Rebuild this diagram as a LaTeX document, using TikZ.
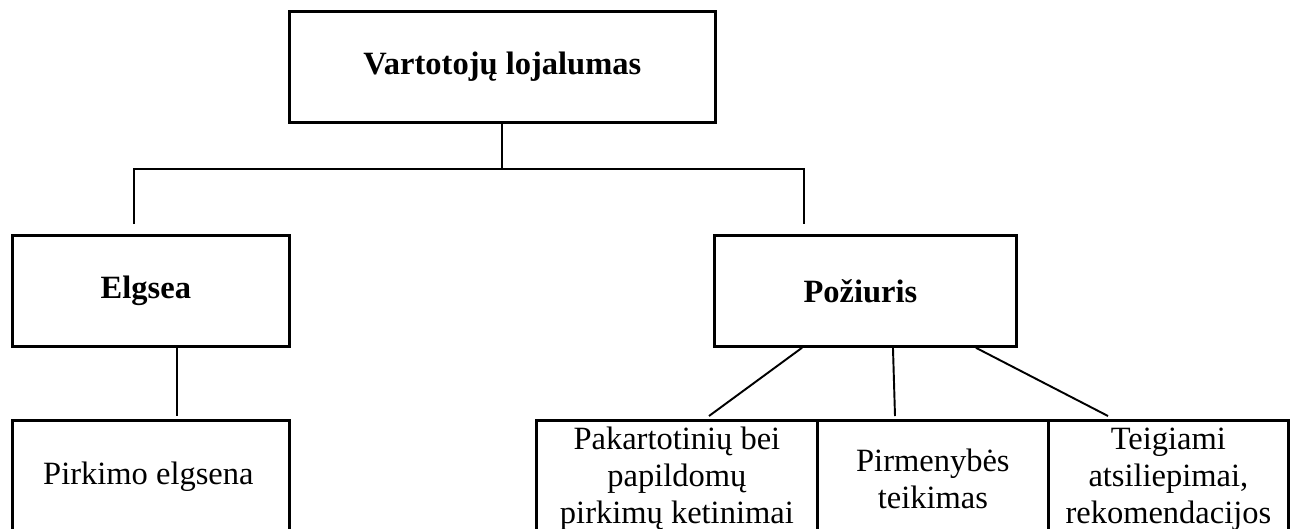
\documentclass[tikz,border=0pt]{standalone}
\usepackage{fontspec}
\setmainfont{Liberation Serif}
\usetikzlibrary{positioning}
\tikzset{
    box/.style={rectangle, draw=black, line width=1.6pt, fill=white, anchor=north west, inner sep=0pt, align=center, font=\fontsize{18.5}{21}\selectfont},
    link/.style={line width=1.1pt}
}

\begin{document}
\begin{tikzpicture}[x=0.02cm, y=-0.02cm]
    \useasboundingbox (0,0) rectangle (1294,528);
    \clip (0,0) rectangle (1294,528);

    \node (loyal) [box, minimum width=8.52cm, minimum height=2.22cm] at (288,10) {\textbf{Vartotojų lojalumas}};
    \node (behav) [box, minimum width=5.54cm, minimum height=2.22cm] at (11,234) {\textbf{Elgsea}\hspace{0.2cm}};
    \node (attit) [box, minimum width=6.04cm, minimum height=2.22cm] at (713,234) {\textbf{Požiuris}\hspace{0.2cm}};

    \node (buy) [box, minimum width=5.54cm, minimum height=2.24cm] at (11,419) {Pirkimo elgsena\hspace{0.1cm}};
    \node (repeat) [box, minimum width=5.62cm, minimum height=2.34cm] at (535,419) {Pakartotinių bei\\papildomų\\pirkimų ketinimai};
    \node (prefer) [box, minimum width=4.62cm, minimum height=2.34cm] at (816,419) {Pirmenybės\\teikimas};
    \node (praise) [box, minimum width=4.80cm, minimum height=2.34cm] at (1047,419) {Teigiami\\atsiliepimai,\\rekomendacijos};

    % tree bar
    \coordinate (barL) at (134,169);
    \coordinate (barR) at (804,169);
    \coordinate (dropL) at (134,224);
    \coordinate (dropR) at (804,224);
    \draw [link] (loyal.south) -- (loyal.south |- barL);
    \draw [link] (dropL) |- (barR) -- (dropR);

    % lower links
    \coordinate (buyTop) at (177,416);
    \coordinate (tipA) at (709,416);
    \coordinate (tipB) at (895,416);
    \coordinate (tipC) at (1108,416);
    \draw [link] (buyTop |- behav.south) -- (buyTop);
    \foreach \dx/\tip in {1.78/tipA, 3.60/tipB, 5.26/tipC}
        \draw [link] ([xshift=\dx cm]attit.south west) -- (\tip);
\end{tikzpicture}
\end{document}
